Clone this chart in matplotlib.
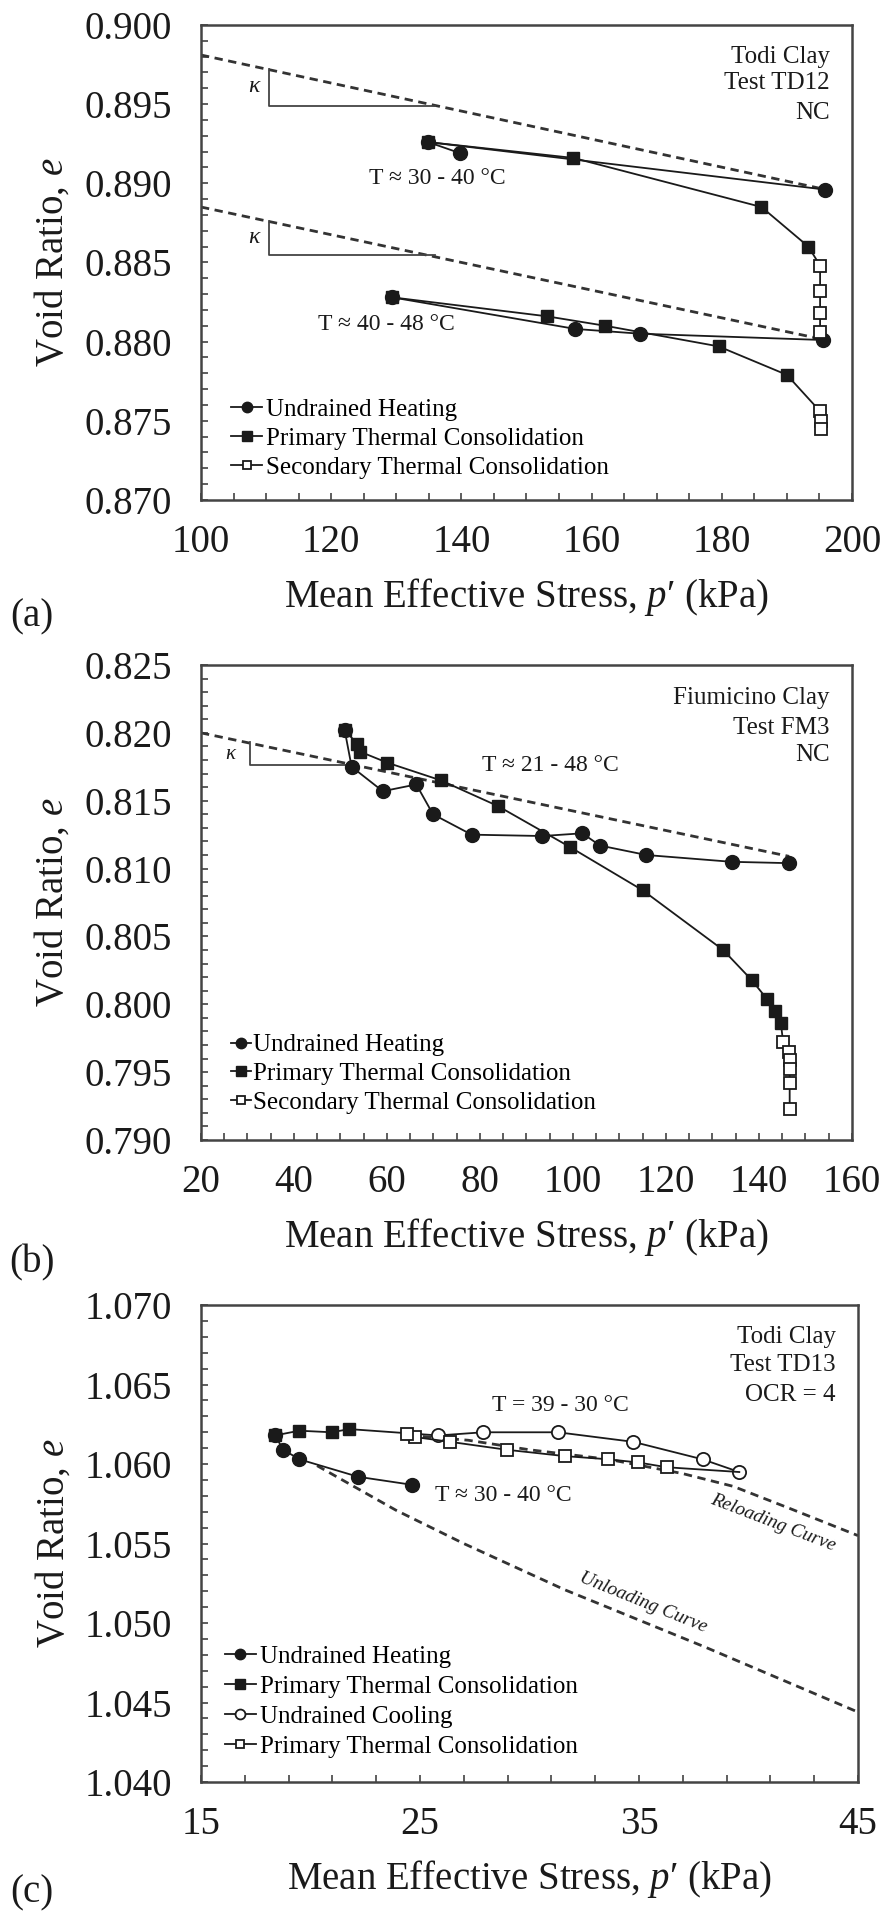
import matplotlib
matplotlib.use("Agg")
import matplotlib.pyplot as plt
from matplotlib.ticker import MultipleLocator, FormatStrFormatter

plt.rcParams['font.family'] = ['Liberation Serif', 'DejaVu Serif']
plt.rcParams['mathtext.fontset'] = 'custom'
plt.rcParams['mathtext.rm'] = 'Liberation Serif'
plt.rcParams['mathtext.it'] = 'Liberation Serif:italic'

# ---- (a) Todi Clay, Test TD12, NC ----
a_heat1_p = [195.9, 134.9, 139.8]
a_heat1_e = [0.8896, 0.8926, 0.8919]
a_cons1_p = [134.9, 157.2, 186.1, 193.3]
a_cons1_e = [0.8926, 0.8916, 0.8885, 0.8860]
a_sec1_p = [195.1, 195.1, 195.1, 195.1]
a_sec1_e = [0.8848, 0.8832, 0.8818, 0.8806]
a_heat2_p = [195.6, 167.4, 157.5, 129.3]
a_heat2_e = [0.8801, 0.8805, 0.8808, 0.8828]
a_cons2_p = [129.3, 153.1, 162.1, 179.5, 190.0]
a_cons2_e = [0.8828, 0.8816, 0.8810, 0.8797, 0.8779]
a_sec2_p = [195.1, 195.2, 195.3]
a_sec2_e = [0.8756, 0.8750, 0.8745]
a_line1_p = [100, 196]
a_line1_e = [0.8981, 0.8896]
a_line2_p = [100, 196]
a_line2_e = [0.8885, 0.8801]
a_tri1_p = [110.4, 110.4, 136.0]
a_tri1_e = [0.8972, 0.8949, 0.8949]
a_tri2_p = [110.4, 110.4, 136.0]
a_tri2_e = [0.8876, 0.8855, 0.8855]

# ---- (b) Fiumicino Clay, Test FM3, NC ----
b_heat_p = [146.5, 134.1, 115.8, 105.8, 102.0, 93.4, 78.2, 69.9, 66.3, 59.1, 52.4, 50.9]
b_heat_e = [0.8104, 0.8105, 0.8110, 0.8117, 0.8126, 0.8124, 0.8125, 0.8140, 0.8162,
            0.8157, 0.8175, 0.8202]
b_cons_p = [50.9, 53.6, 54.3, 60.1, 71.6, 83.9, 99.3, 115.0, 132.3, 138.4, 141.7, 143.4, 144.7]
b_cons_e = [0.8202, 0.8192, 0.8186, 0.8178, 0.8165, 0.8146, 0.8116, 0.8084, 0.8040,
            0.8018, 0.8004, 0.7995, 0.7986]
b_sec_p = [145.2, 146.5, 146.6, 146.6, 146.6, 146.6]
b_sec_e = [0.7972, 0.7965, 0.7959, 0.7952, 0.7942, 0.7923]
b_line_p = [20, 146.5]
b_line_e = [0.8200, 0.8109]
b_tri_p = [30.5, 30.5, 52.6]
b_tri_e = [0.8193, 0.8176, 0.8176]

# ---- (c) Todi Clay, Test TD13, OCR = 4 ----
c_heat_p = [24.62, 22.18, 19.49, 18.76, 18.38]
c_heat_e = [1.0587, 1.0592, 1.0603, 1.0609, 1.0618]
c_cons_p = [18.38, 19.49, 20.97, 21.77]
c_cons_e = [1.0618, 1.0621, 1.0620, 1.0622]
c_cool_p = [21.77, 25.84, 27.88, 31.30, 34.73, 37.90, 39.58]
c_cool_e = [1.0622, 1.0618, 1.0620, 1.0620, 1.0614, 1.0603, 1.0595]
c_cons2_p = [39.58, 36.27, 34.97, 33.60, 31.62, 28.96, 26.37, 24.77, 24.39]
c_cons2_e = [1.0595, 1.0598, 1.0601, 1.0603, 1.0605, 1.0609, 1.0614, 1.0617, 1.0619]
c_reload_p = [24.5, 27.2, 30.0, 33.6, 37.0, 39.3, 41.9, 45.0]
c_reload_e = [1.0618, 1.0615, 1.0609, 1.0603, 1.0594, 1.0586, 1.0572, 1.0555]
c_unload_p = [20.3, 23.9, 27.0, 31.6, 38.0, 45.0]
c_unload_e = [1.0599, 1.0571, 1.0550, 1.0521, 1.0485, 1.0444]

INK = '#1a1a1a'
LW = 1.3
FS_TICK = 28
heat_kw = dict(color=INK, lw=LW, marker='o', ms=10, mfc=INK, mec=INK)
cons_kw = dict(color=INK, lw=LW, marker='s', ms=9, mfc=INK, mec=INK)
open_sq_kw = dict(color=INK, lw=LW, marker='s', ms=8.5, mfc='white', mec=INK, mew=1.3)
open_ci_kw = dict(color=INK, lw=LW, marker='o', ms=9.5, mfc='white', mec=INK, mew=1.3)
dash_kw = dict(color='#333333', lw=2.0, dashes=(3, 2), zorder=1)
tri_kw = dict(color='#444444', lw=1.3, zorder=1)

fig = plt.figure(figsize=(8.85, 19.17), dpi=100)
ax_a = fig.add_axes([0.2271, 0.7392, 0.7356, 0.2478])
ax_b = fig.add_axes([0.2271, 0.4053, 0.7356, 0.2478])
ax_c = fig.add_axes([0.2271, 0.0704, 0.7424, 0.2488])


def style_axes(ax, xlim, xmaj, xmin, ylim):
    ax.set_xlim(*xlim)
    ax.set_ylim(*ylim)
    ax.xaxis.set_major_locator(xmaj)
    ax.xaxis.set_minor_locator(xmin)
    ax.yaxis.set_major_locator(MultipleLocator(0.005))
    ax.yaxis.set_minor_locator(MultipleLocator(0.001))
    ax.yaxis.set_major_formatter(FormatStrFormatter('%.3f'))
    ax.tick_params(which='both', direction='in', length=5, width=1.1,
                   top=False, right=False, color='#333333', labelcolor=INK)
    ax.tick_params(axis='x', which='major', pad=17, labelsize=FS_TICK)
    ax.tick_params(axis='y', which='major', pad=21, labelsize=FS_TICK)
    for s in ax.spines.values():
        s.set_linewidth(1.8)
        s.set_color('#444444')
    ax.set_xlabel("Mean Effective Stress, $p$\u2032 (kPa)", fontsize=FS_TICK, color=INK, labelpad=11)
    ax.set_ylabel("Void Ratio, $e$", fontsize=FS_TICK, color=INK)
    ax.yaxis.set_label_coords(-0.198, 0.5)


# (a)
ax = ax_a
ax.plot(a_line1_p, a_line1_e, **dash_kw)
ax.plot(a_line2_p, a_line2_e, **dash_kw)
ax.plot(a_tri1_p, a_tri1_e, **tri_kw)
ax.plot(a_tri2_p, a_tri2_e, **tri_kw)
h1, = ax.plot(a_heat1_p, a_heat1_e, **heat_kw)
h2, = ax.plot(a_cons1_p + a_sec1_p[:1], a_cons1_e + a_sec1_e[:1], markevery=slice(0, 4), **cons_kw)
ax.plot(a_heat2_p, a_heat2_e, **heat_kw)
ax.plot(a_cons2_p + a_sec2_p[:1], a_cons2_e + a_sec2_e[:1], markevery=slice(0, 5), **cons_kw)
ax.plot(a_sec1_p + a_heat2_p[:1], a_sec1_e + a_heat2_e[:1], markevery=slice(0, 4), **open_sq_kw)
h3, = ax.plot(a_sec2_p, a_sec2_e, **open_sq_kw)
ax.text(108.3, 0.8961, r'$\kappa$', fontsize=17, ha='center', va='center', color=INK)
ax.text(108.3, 0.8866, r'$\kappa$', fontsize=17, ha='center', va='center', color=INK)
ax.text(136.3, 0.8903, 'T ≈ 30 - 40 °C', fontsize=17, ha='center', va='center', color=INK)
ax.text(128.5, 0.8811, 'T ≈ 40 - 48 °C', fontsize=17, ha='center', va='center', color=INK)
ax.text(0.966, 0.933, 'Todi Clay', transform=ax.transAxes, fontsize=18, ha='right', va='center', color=INK)
ax.text(0.966, 0.878, 'Test TD12', transform=ax.transAxes, fontsize=18, ha='right', va='center', color=INK)
ax.text(0.966, 0.815, 'NC', transform=ax.transAxes, fontsize=18, ha='right', va='center', color=INK)
ax.legend([h1, h2, h3], ['Undrained Heating', 'Primary Thermal Consolidation',
                         'Secondary Thermal Consolidation'],
          loc='lower left', bbox_to_anchor=(0.046, 0.045), frameon=False, fontsize=18,
          handlelength=1.25, handletextpad=0.15, labelspacing=0.25, borderpad=0,
          borderaxespad=0, numpoints=1, markerscale=0.75)
style_axes(ax, (100, 200), MultipleLocator(20), MultipleLocator(5), (0.870, 0.900))

# (b)
ax = ax_b
ax.plot(b_line_p, b_line_e, **dash_kw)
ax.plot(b_tri_p, b_tri_e, **tri_kw)
h1, = ax.plot(b_heat_p, b_heat_e, **heat_kw)
h2, = ax.plot(b_cons_p + b_sec_p[:1], b_cons_e + b_sec_e[:1], markevery=slice(0, 13), **cons_kw)
h3, = ax.plot(b_sec_p, b_sec_e, **open_sq_kw)
ax.text(26.5, 0.8184, r'$\kappa$', fontsize=15, ha='center', va='center', color=INK)
ax.text(95.1, 0.8176, 'T ≈ 21 - 48 °C', fontsize=17, ha='center', va='center', color=INK)
ax.text(0.966, 0.931, 'Fiumicino Clay', transform=ax.transAxes, fontsize=18, ha='right', va='center', color=INK)
ax.text(0.966, 0.867, 'Test FM3', transform=ax.transAxes, fontsize=18, ha='right', va='center', color=INK)
ax.text(0.966, 0.810, 'NC', transform=ax.transAxes, fontsize=18, ha='right', va='center', color=INK)
ax.legend([h1, h2, h3], ['Undrained Heating', 'Primary Thermal Consolidation',
                         'Secondary Thermal Consolidation'],
          loc='lower left', bbox_to_anchor=(0.046, 0.055), frameon=False, fontsize=18,
          handlelength=0.8, handletextpad=0.1, labelspacing=0.25, borderpad=0,
          borderaxespad=0, numpoints=1, markerscale=0.75)
style_axes(ax, (20, 160), MultipleLocator(20), MultipleLocator(5), (0.790, 0.825))

# (c)
ax = ax_c
ax.plot(c_reload_p, c_reload_e, **dash_kw)
ax.plot(c_unload_p, c_unload_e, **dash_kw)
h1, = ax.plot(c_heat_p, c_heat_e, **heat_kw)
h2, = ax.plot(c_cons_p, c_cons_e, **cons_kw)
h3, = ax.plot(c_cool_p, c_cool_e, markevery=slice(1, None), **open_ci_kw)
h4, = ax.plot(c_cons2_p, c_cons2_e, markevery=slice(1, None), **open_sq_kw)
ax.text(31.4, 1.0637, 'T = 39 - 30 °C', fontsize=17, ha='center', va='center', color=INK)
ax.text(28.8, 1.0580, 'T ≈ 30 - 40 °C', fontsize=17, ha='center', va='center', color=INK)
ax.text(41.1, 1.0563, 'Reloading Curve', fontsize=14, style='italic', rotation=-21,
        ha='center', va='center', color=INK)
ax.text(35.2, 1.0513, 'Unloading Curve', fontsize=14, style='italic', rotation=-22,
        ha='center', va='center', color=INK)
ax.text(0.966, 0.933, 'Todi Clay', transform=ax.transAxes, fontsize=18, ha='right', va='center', color=INK)
ax.text(0.966, 0.874, 'Test TD13', transform=ax.transAxes, fontsize=18, ha='right', va='center', color=INK)
ax.text(0.966, 0.811, 'OCR = 4', transform=ax.transAxes, fontsize=18, ha='right', va='center', color=INK)
ax.legend([h1, h2, h3, h4], ['Undrained Heating', 'Primary Thermal Consolidation',
                             'Undrained Cooling', 'Primary Thermal Consolidation'],
          loc='lower left', bbox_to_anchor=(0.036, 0.05), frameon=False, fontsize=18,
          handlelength=1.25, handletextpad=0.15, labelspacing=0.3, borderpad=0,
          borderaxespad=0, numpoints=1, markerscale=0.75)
style_axes(ax, (15, 45), MultipleLocator(10, offset=5), MultipleLocator(2, offset=1), (1.040, 1.070))
ax.yaxis.set_label_coords(-0.196, 0.5)

fig.text(0.036, 0.678, '(a)', fontsize=FS_TICK, ha='center', va='center', color=INK)
fig.text(0.036, 0.341, '(b)', fontsize=FS_TICK, ha='center', va='center', color=INK)
fig.text(0.036, 0.003, '(c)', fontsize=FS_TICK, ha='center', va='bottom', color=INK)

fig.savefig('out.png', dpi=100, facecolor='white')
